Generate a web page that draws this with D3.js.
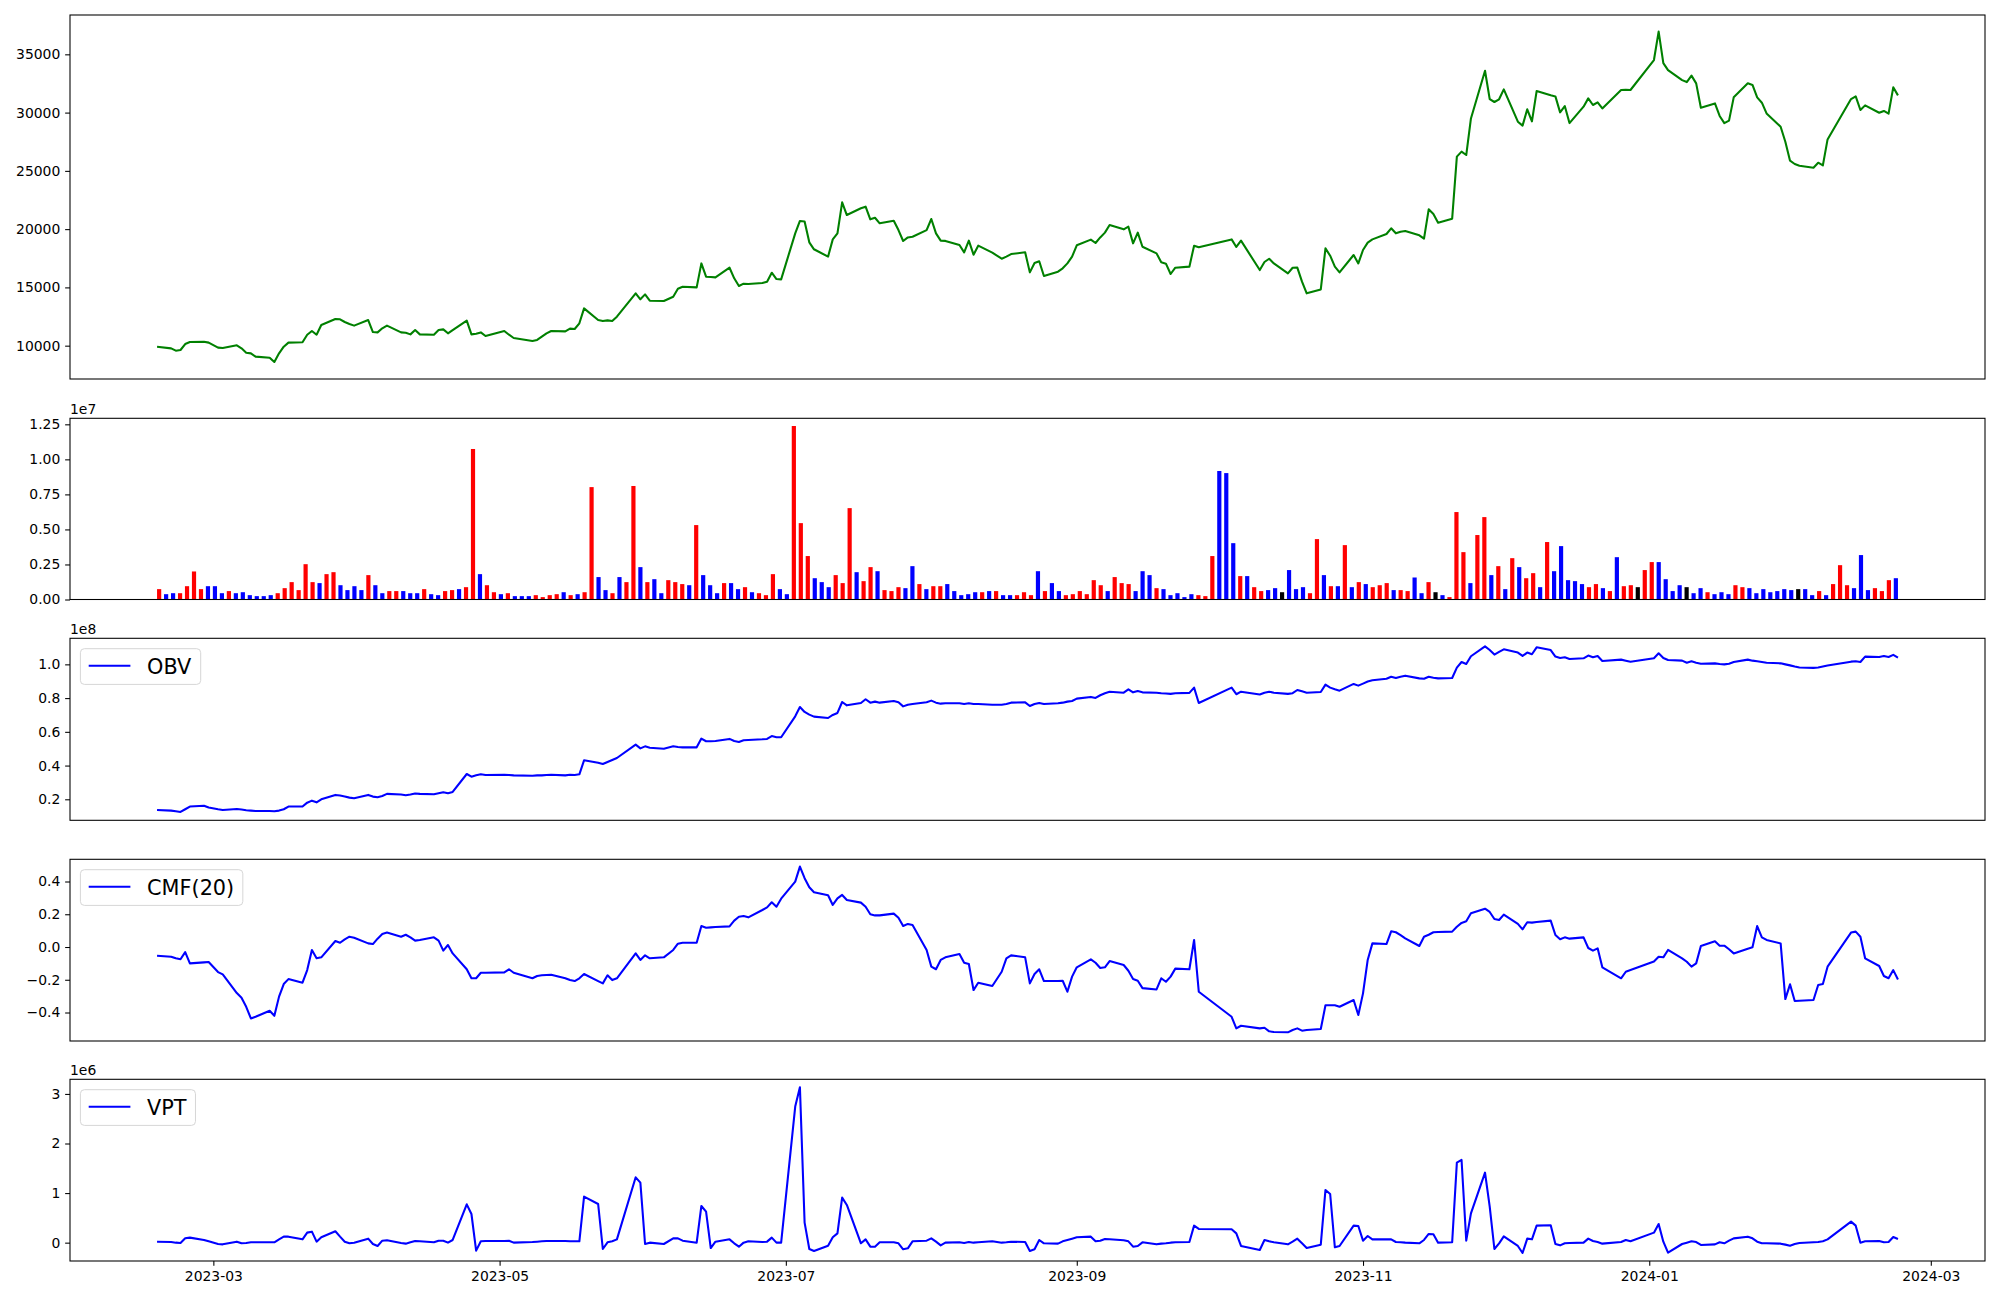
<!DOCTYPE html>
<html><head><meta charset="utf-8">
<script src="https://cdn.jsdelivr.net/npm/d3@7"></script>
<style>
body{margin:0;background:#fff}
svg{display:block}
text{font-family:"DejaVu Sans",sans-serif;fill:#000}
</style>
</head><body>
<svg id="chart" width="2000" height="1300"></svg>
<script>
// ---------------- DATA ----------------
const startDate = "2023-02-17", endDate = "2024-02-23";
const holidays = ["2023-03-01","2023-05-01","2023-05-05","2023-05-29","2023-06-06","2023-08-15",
  "2023-09-28","2023-09-29","2023-10-02","2023-10-03","2023-10-09","2023-12-25","2023-12-29",
  "2024-01-01","2024-02-09","2024-02-12"];

const close = [9910,9770,9570,9630,10140,10310,10340,10260,9830,9800,
10030,9770,9400,9340,9060,8970,8600,9340,9910,10260,
10290,10940,11260,10940,11770,12290,12260,12030,11860,11720,
12200,11170,11140,11490,11720,11140,11110,10970,11340,10970,
10940,11340,11400,11060,11340,12150,10970,11030,11140,10830,
11260,10940,10660,10400,10490,10770,11060,11260,11230,11460,
11430,11920,13200,12200,12120,12170,12120,12490,14490,13980,
14400,13860,13830,14200,14890,15060,15000,17060,15920,15890,
15860,16690,15780,15120,15320,15290,15380,15490,16260,15720,
15690,19640,20700,20650,18870,18270,17640,19120,19640,22300,
21210,21790,21930,20840,20980,20500,20720,19920,18980,19290,
19350,19920,20870,19640,19010,18990,18640,18010,19010,17810,
18580,17980,17460,17640,17860,18010,16290,17090,17240,15980,
16350,16640,17060,17640,18610,19100,18810,19290,19700,20350,
19980,20210,18780,19700,18490,17920,17150,17040,16150,16690,
16780,18580,18440,19120,18470,19010,16490,17180,17460,17060,
16210,16690,16700,15490,14490,14830,18350,17720,16780,16290,
17780,17060,18210,18840,19120,19580,20070,19640,19780,19840,
19470,19180,21700,21300,20550,20900,26220,26650,26360,29500,
33590,31160,30910,31140,31990,29220,28880,30280,29250,31850,
31480,31390,30020,30560,29100,30510,31220,30650,30880,30360,
31940,31950,31940,34510,36950,34250,33650,32790,32620,33170,
32510,30420,30790,29710,29100,29310,31310,32510,32370,31310,
30850,29930,28790,27500,25870,25590,25440,25270,25700,25470,
27700,31160,31390,30220,30620,29990,30140,29910,32170,31480];

// volume in units of 1e7
const volume = [0.074,0.038,0.045,0.045,0.095,0.200,0.074,0.095,0.095,0.045,
0.060,0.045,0.052,0.031,0.024,0.024,0.031,0.045,0.081,0.124,
0.067,0.252,0.124,0.117,0.181,0.195,0.102,0.067,0.095,0.067,
0.174,0.102,0.045,0.060,0.060,0.060,0.045,0.045,0.074,0.038,
0.031,0.060,0.067,0.074,0.088,1.074,0.181,0.102,0.052,0.038,
0.045,0.024,0.024,0.024,0.031,0.017,0.031,0.038,0.052,0.031,
0.038,0.052,0.802,0.160,0.067,0.045,0.160,0.124,0.810,0.231,
0.124,0.145,0.045,0.138,0.124,0.110,0.102,0.531,0.174,0.102,
0.045,0.117,0.117,0.074,0.088,0.052,0.045,0.031,0.181,0.074,
0.038,1.238,0.545,0.310,0.152,0.124,0.088,0.174,0.117,0.652,
0.195,0.131,0.231,0.202,0.067,0.060,0.088,0.081,0.238,0.110,
0.074,0.095,0.095,0.110,0.060,0.031,0.038,0.052,0.052,0.060,
0.060,0.031,0.031,0.031,0.052,0.031,0.202,0.060,0.117,0.060,
0.031,0.038,0.060,0.038,0.138,0.102,0.060,0.160,0.117,0.110,
0.060,0.202,0.174,0.081,0.074,0.031,0.045,0.017,0.038,0.031,
0.024,0.310,0.917,0.902,0.402,0.167,0.167,0.088,0.060,0.067,
0.081,0.052,0.210,0.074,0.088,0.045,0.431,0.174,0.095,0.095,
0.388,0.088,0.124,0.110,0.088,0.102,0.117,0.067,0.067,0.060,
0.157,0.045,0.124,0.052,0.031,0.017,0.624,0.338,0.117,0.460,
0.588,0.174,0.238,0.074,0.295,0.231,0.152,0.188,0.088,0.410,
0.202,0.381,0.138,0.131,0.110,0.088,0.110,0.081,0.060,0.302,
0.095,0.102,0.088,0.210,0.267,0.267,0.145,0.060,0.102,0.088,
0.045,0.081,0.052,0.038,0.052,0.038,0.102,0.088,0.081,0.045,
0.074,0.052,0.060,0.074,0.067,0.074,0.074,0.031,0.060,0.031,
0.110,0.245,0.102,0.081,0.317,0.067,0.081,0.060,0.138,0.152];

// candle direction per day: u = up, d = down, n = unchanged (10 days per group)
const directionGroups = [
 "udduuuuddd","udddddduuu","uuuduudddd","udduudddud","duuduuduud",
 "uddduuuudu","duudduduud","udduuududd","dudduduuud","duuuddduuu",
 "duuduuuddu","duudddddud","udduuududd","uuuuuuduuu","dddudddddu",
 "uuddduduud","dnddduudud","ududuuuduu","ddunduuudu","udududuudu",
 "ddddduudud","uunuuddddn","dduddduudd","dddddnddud","uuuddduuud"];
const direction = directionGroups.join("").split("");

// OBV in units of 1e8
const obv = [0.137,0.133,0.129,0.125,0.141,0.157,0.162,0.151,0.141,0.137,
0.143,0.139,0.135,0.133,0.131,0.131,0.129,0.133,0.141,0.157,
0.157,0.180,0.192,0.182,0.200,0.226,0.222,0.216,0.210,0.206,
0.226,0.216,0.212,0.220,0.232,0.228,0.224,0.228,0.234,0.232,
0.230,0.236,0.242,0.236,0.244,0.350,0.334,0.342,0.348,0.344,
0.346,0.344,0.342,0.340,0.342,0.342,0.344,0.346,0.342,0.346,
0.344,0.348,0.431,0.417,0.409,0.421,0.433,0.445,0.524,0.502,
0.514,0.506,0.500,0.514,0.510,0.508,0.508,0.560,0.544,0.544,
0.546,0.558,0.546,0.540,0.550,0.552,0.556,0.558,0.575,0.568,
0.568,0.692,0.747,0.718,0.702,0.690,0.682,0.700,0.712,0.777,
0.757,0.771,0.793,0.773,0.779,0.773,0.783,0.775,0.751,0.761,
0.765,0.775,0.785,0.773,0.767,0.769,0.769,0.765,0.769,0.765,
0.765,0.761,0.761,0.765,0.773,0.775,0.753,0.765,0.771,0.765,
0.769,0.773,0.779,0.783,0.797,0.807,0.801,0.817,0.829,0.838,
0.832,0.852,0.834,0.842,0.834,0.832,0.829,0.827,0.825,0.829,
0.831,0.862,0.771,0.862,0.823,0.838,0.821,0.832,0.838,0.832,
0.825,0.829,0.848,0.840,0.832,0.836,0.880,0.862,0.852,0.844,
0.884,0.874,0.886,0.898,0.906,0.915,0.927,0.919,0.927,0.933,
0.917,0.915,0.927,0.921,0.917,0.919,0.981,1.014,1.002,1.048,
1.107,1.085,1.058,1.074,1.089,1.070,1.050,1.070,1.060,1.101,
1.085,1.046,1.038,1.042,1.032,1.036,1.052,1.042,1.050,1.020,
1.028,1.022,1.016,1.036,1.066,1.038,1.026,1.022,1.010,1.018,
1.010,1.004,1.006,1.002,1.000,1.004,1.014,1.028,1.022,1.018,
1.014,1.010,1.006,1.000,0.994,0.987,0.981,0.979,0.981,0.987,
0.993,1.016,1.018,1.014,1.046,1.044,1.050,1.044,1.056,1.040];

const cmf = [-0.053,-0.059,-0.069,-0.075,-0.031,-0.100,-0.094,-0.092,-0.153,-0.167,
-0.281,-0.310,-0.365,-0.436,-0.426,-0.389,-0.420,-0.303,-0.226,-0.196,
-0.218,-0.141,-0.018,-0.069,-0.063,0.037,0.026,0.047,0.063,0.057,
0.022,0.018,0.051,0.079,0.088,0.063,0.075,0.059,0.039,0.043,
0.059,0.039,-0.022,0.012,-0.039,-0.136,-0.191,-0.191,-0.157,-0.157,
-0.155,-0.136,-0.157,-0.191,-0.177,-0.173,-0.171,-0.169,-0.191,-0.202,
-0.208,-0.191,-0.165,-0.208,-0.222,-0.173,-0.202,-0.191,-0.039,-0.079,
-0.051,-0.069,-0.063,-0.018,0.020,0.026,0.026,0.128,0.118,0.120,
0.122,0.126,0.161,0.185,0.189,0.181,0.226,0.242,0.273,0.246,
0.295,0.399,0.491,0.420,0.365,0.334,0.316,0.257,0.297,0.318,
0.287,0.271,0.246,0.200,0.193,0.193,0.204,0.179,0.128,0.141,
0.134,-0.018,-0.120,-0.136,-0.079,-0.063,-0.043,-0.096,-0.104,-0.263,
-0.218,-0.238,-0.151,-0.069,-0.051,-0.063,-0.222,-0.165,-0.136,-0.208,
-0.208,-0.206,-0.273,-0.181,-0.124,-0.075,-0.096,-0.128,-0.124,-0.086,
-0.110,-0.145,-0.196,-0.206,-0.251,-0.259,-0.191,-0.212,-0.181,-0.132,
-0.136,0.043,-0.273,-0.426,-0.497,-0.481,-0.497,-0.493,-0.515,-0.519,
-0.521,-0.507,-0.497,-0.511,-0.507,-0.501,-0.356,-0.356,-0.356,-0.365,
-0.324,-0.415,-0.283,-0.079,0.022,0.018,0.096,0.090,0.073,0.053,
0.006,0.063,0.075,0.090,0.092,0.094,0.124,0.147,0.157,0.206,
0.234,0.214,0.171,0.165,0.198,0.141,0.108,0.151,0.149,0.153,
0.161,0.073,0.047,0.059,0.051,0.059,-0.006,-0.022,-0.008,-0.124,
-0.191,-0.151,-0.141,-0.088,-0.059,-0.063,-0.018,-0.069,-0.090,-0.120,
-0.100,0.006,0.035,0.008,0.008,-0.014,-0.039,-0.010,-0.002,0.128,
0.059,0.043,0.022,-0.318,-0.228,-0.330,-0.328,-0.324,-0.232,-0.226,
-0.120,0.088,0.094,0.063,-0.069,-0.116,-0.177,-0.191,-0.141,-0.198];

// VPT in units of 1e6
const vpt = [0.020,0.013,0.000,-0.007,0.087,0.101,0.054,0.027,-0.027,-0.034,
0.020,-0.013,-0.007,0.007,0.007,0.007,0.007,0.067,0.121,0.121,
0.067,0.202,0.222,0.020,0.108,0.229,0.121,0.020,-0.013,0.000,
0.081,-0.027,-0.067,0.040,0.047,-0.007,-0.020,0.007,0.034,0.027,
0.007,0.040,0.040,0.000,0.054,0.773,0.578,-0.161,0.027,0.034,
0.034,0.040,0.000,0.013,0.020,0.027,0.034,0.034,0.034,0.027,
0.027,0.027,0.928,0.780,-0.128,0.007,0.027,0.067,1.318,1.210,
-0.027,0.000,-0.027,0.087,0.087,0.040,0.000,0.740,0.625,-0.108,
0.020,0.067,-0.013,-0.081,0.000,0.027,0.013,0.020,0.101,0.000,
0.000,2.744,3.134,0.403,-0.128,-0.168,-0.061,0.108,0.188,0.908,
0.760,-0.013,0.067,-0.081,-0.081,0.007,0.007,-0.013,-0.134,-0.114,
0.027,0.040,0.087,0.020,-0.054,0.000,0.007,-0.007,0.013,0.000,
0.007,0.027,0.000,0.007,0.020,0.013,-0.168,-0.134,0.054,-0.013,
-0.020,0.027,0.054,0.081,0.108,0.121,0.027,0.040,0.074,0.067,
0.047,0.027,-0.081,-0.067,0.007,-0.034,-0.020,-0.013,0.000,0.007,
0.013,0.343,0.276,0.269,0.188,-0.067,-0.148,0.054,0.027,0.007,
-0.034,0.020,0.081,-0.013,-0.108,-0.040,1.063,0.982,-0.094,-0.067,
0.343,0.336,0.040,0.134,0.067,0.067,0.067,0.013,0.007,0.000,
-0.013,0.054,0.175,0.168,0.000,0.007,1.614,1.668,0.040,0.592,
1.412,0.726,-0.128,-0.013,0.128,-0.067,-0.208,0.081,0.067,0.343,
0.350,-0.027,-0.054,-0.013,-0.007,0.000,0.081,0.034,0.013,-0.020,
0.013,0.054,0.027,0.202,0.377,0.020,-0.202,-0.027,0.000,0.027,
0.013,-0.047,-0.034,0.007,-0.013,0.040,0.087,0.121,0.087,0.020,
-0.013,-0.013,-0.020,-0.040,-0.061,-0.027,-0.007,0.007,0.013,0.027,
0.067,0.424,0.343,0.000,0.027,0.034,0.007,0.013,0.114,0.074];

const priceTicks = [10000,15000,20000,25000,30000,35000];
const volumeTicks = [0,0.25,0.5,0.75,1.0,1.25];
const obvTicks = [0.2,0.4,0.6,0.8,1.0];
const cmfTicks = [-0.4,-0.2,0,0.2,0.4];
const vptTicks = [0,1,2,3];
const xTickLabels = ["2023-03","2023-05","2023-07","2023-09","2023-11","2024-01","2024-03"];

// ---------------- BUILD ----------------
const parse = d3.timeParse("%Y-%m-%d");
const holidaySet = new Set(holidays);
const fmtDay = d3.timeFormat("%Y-%m-%d");
const dates = d3.timeDay.range(parse(startDate), d3.timeDay.offset(parse(endDate),1))
  .filter(d => d.getDay() !== 0 && d.getDay() !== 6 && !holidaySet.has(fmtDay(d)));
const N = close.length;

const dirColor = {u:"#ff0000", d:"#0000ff", n:"#000000"};

const svg = d3.select("#chart");
const L = 70, R = 1985;
const FS = 13.9;
const TL = 4.86;

const panels = {
  price:{top:15, bottom:379},
  vol:{top:418.3, bottom:599.5},
  obv:{top:638.3, bottom:820.3},
  cmf:{top:859.3, bottom:1041},
  vpt:{top:1079.3, bottom:1261}
};

// time x scale with matplotlib-like 5% margins
const t0 = dates[0], t1 = dates[dates.length-1];
const span = t1 - t0;
const xTime = d3.scaleTime()
  .domain([new Date(+t0 - 0.05*span), new Date(+t1 + 0.05*span)])
  .range([L, R]);

// index x scale for bars
const BW = 0.6;
const bspan = (N-1) + BW;
const xIdx = d3.scaleLinear()
  .domain([-BW/2 - 0.05*bspan, (N-1) + BW/2 + 0.05*bspan])
  .range([L, R]);

function frame(p){
  svg.append("rect").attr("x",L).attr("y",p.top).attr("width",R-L).attr("height",p.bottom-p.top)
    .attr("fill","none").attr("stroke","#000").attr("stroke-width",1.07);
}
function yAxis(y, ticks, fmt){
  const g = svg.append("g").attr("transform",`translate(${L},0)`)
    .call(d3.axisLeft(y).tickValues(ticks).tickFormat(fmt).tickSize(TL).tickPadding(TL));
  g.select(".domain").remove();
  g.selectAll(".tick line").attr("stroke","#000").attr("stroke-width",1.07);
  g.selectAll(".tick text").attr("font-size",FS).attr("font-family","DejaVu Sans").attr("fill","#000");
}
function offsetLabel(p, txt){
  svg.append("text").attr("x",L).attr("y",p.top-4.7).attr("font-size",FS).text(txt);
}
function legend(p, label){
  const g = svg.append("g");
  const lfs = 20.8;
  const bx = L + 10.4, by = p.top + 10.4;
  const rect = g.append("rect");
  const txt = g.append("text").attr("x", bx + 8.3 + 41.7 + 16.7).attr("y", by + 17.9 + 7.4)
    .attr("font-size", lfs).text(label);
  const w = txt.node().getBBox();
  const bw = (w.x + w.width) - bx + 8.6;
  rect.attr("x",bx).attr("y",by).attr("width",bw).attr("height",35.7).attr("rx",4)
    .attr("fill","#ffffff").attr("fill-opacity",0.8).attr("stroke","#d6d6d6").attr("stroke-width",1);
  g.append("line").attr("x1",bx+8.3).attr("x2",bx+8.3+41.7).attr("y1",by+17).attr("y2",by+17)
    .attr("stroke","#0000ff").attr("stroke-width",2.08);
  txt.raise();
}
function linePanel(p, values, domain, ticks, fmt, color){
  const y = d3.scaleLinear().domain(domain).range([p.bottom, p.top]);
  const line = d3.line().x((d,i)=>xTime(dates[i])).y(d=>y(d));
  svg.append("path").datum(values).attr("d", line).attr("fill","none")
    .attr("stroke", color).attr("stroke-width", 2.08).attr("stroke-linejoin","round");
  yAxis(y, ticks, fmt);
  frame(p);
  return y;
}

// Panel 1: price
linePanel(panels.price, close, [7140, 38375], priceTicks, d3.format("d"), "#008000");

// Panel 2: volume bars
{
  const p = panels.vol;
  const y = d3.scaleLinear().domain([0, 1.293]).range([p.bottom, p.top]);
  const bwPx = xIdx(BW) - xIdx(0);
  svg.append("g").selectAll("rect").data(volume).join("rect")
    .attr("x", (d,i)=> xIdx(i) - bwPx/2)
    .attr("width", bwPx)
    .attr("y", d => y(d))
    .attr("height", d => y(0) - y(d))
    .attr("fill", (d,i)=> dirColor[direction[i]] || "#0000ff");
  yAxis(y, volumeTicks, d3.format(".2f"));
  frame(p);
  offsetLabel(p, "1e7");
}

// Panel 3: OBV
linePanel(panels.obv, obv, [0.0755, 1.1545], obvTicks, d3.format(".1f"), "#0000ff");
offsetLabel(panels.obv, "1e8");
legend(panels.obv, "OBV");

// Panel 4: CMF
linePanel(panels.cmf, cmf, [-0.574, 0.5356], cmfTicks, d3.format(".1f"), "#0000ff");
legend(panels.cmf, "CMF(20)");

// Panel 5: VPT
linePanel(panels.vpt, vpt, [-0.37, 3.295], vptTicks, d3.format("d"), "#0000ff");
offsetLabel(panels.vpt, "1e6");
legend(panels.vpt, "VPT");

// bottom date axis
{
  const p = panels.vpt;
  const tickDates = xTickLabels.map(s => d3.timeParse("%Y-%m")(s));
  const g = svg.append("g").attr("transform",`translate(0,${p.bottom})`)
    .call(d3.axisBottom(xTime).tickValues(tickDates).tickFormat(d3.timeFormat("%Y-%m")).tickSize(TL).tickPadding(TL));
  g.select(".domain").remove();
  g.selectAll(".tick line").attr("stroke","#000").attr("stroke-width",1.07);
  g.selectAll(".tick text").attr("font-size",FS).attr("font-family","DejaVu Sans").attr("fill","#000");
}
</script>
</body></html>
